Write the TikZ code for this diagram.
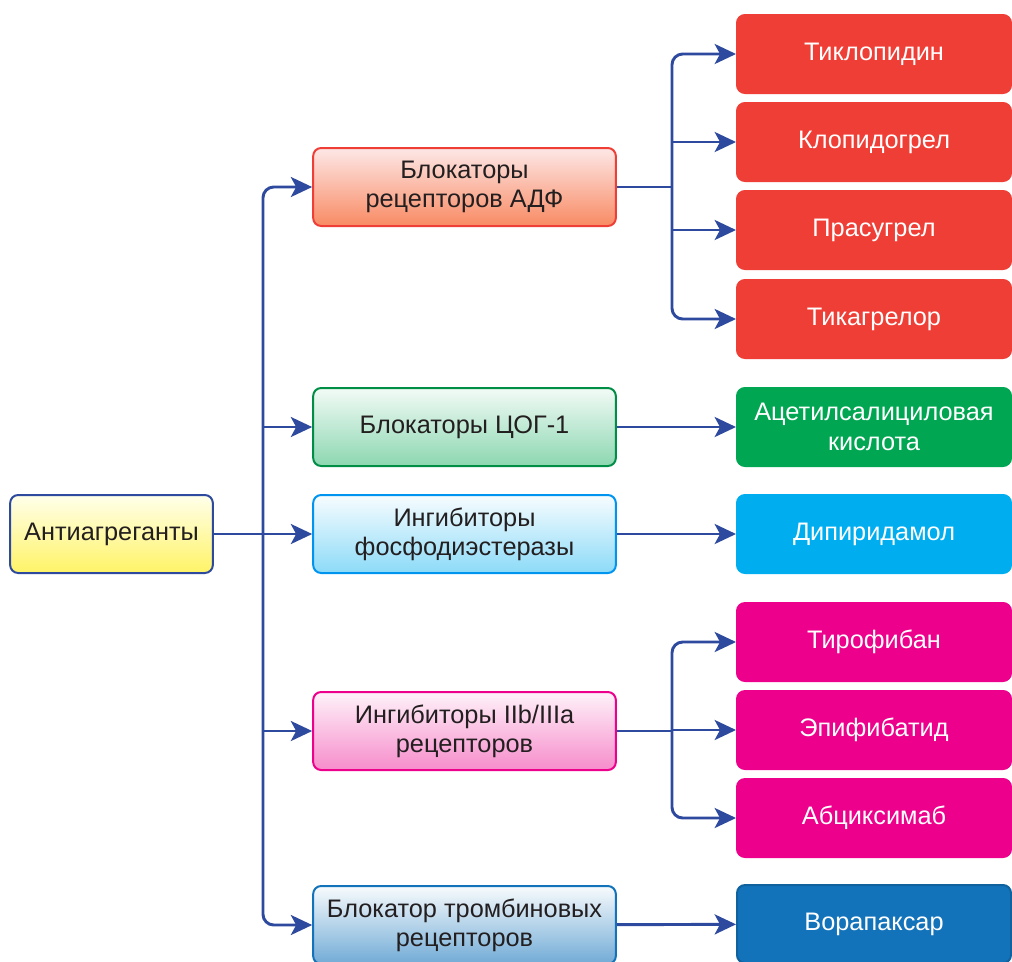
\documentclass[tikz,border=0pt]{standalone}
\usepackage{fontspec}
\setmainfont{Liberation Sans}
\usetikzlibrary{arrows.meta}
\definecolor{ArrowClr}{RGB}{46,74,158}
\definecolor{TextClr}{RGB}{35,31,32}
\definecolor{RedClr}{RGB}{239,62,54}
\definecolor{GreenClr}{RGB}{0,166,81}
\definecolor{CyanClr}{RGB}{0,174,239}
\definecolor{PinkClr}{RGB}{236,0,140}
\definecolor{BlueClr}{RGB}{18,115,186}

\begin{document}
\begin{tikzpicture}[x=0.75pt,y=-0.75pt,
  box/.style={rounded corners=6pt,line width=1.5pt,minimum height=58.5pt,
    align=center,font=\fontsize{19}{22}\selectfont,text=TextClr},
  mid/.style={box,minimum width=227pt},
  drug/.style={box,minimum width=205.5pt,text=white},
  arr/.style={line width=2.2pt,color=ArrowClr,-{Stealth[length=16pt,width=15pt,inset=4pt]}},
  arrs/.style={arr,{Stealth[length=16pt,width=15pt,inset=4pt]}-{Stealth[length=16pt,width=15pt,inset=4pt]},rounded corners=8pt},
  line/.style={line width=2.2pt,color=ArrowClr}]
\useasboundingbox (0,0) rectangle (1012,961);

\node[box,minimum width=152pt,draw=ArrowClr,top color=yellow!8,bottom color=yellow!85!orange!60] (root) at (111.5,534) {Антиагреганты};

\node[mid,draw=RedClr,top color=RedClr!12,bottom color=RedClr!60!orange!70] (adp) at (464.5,187) {Блокаторы\\рецепторов АДФ};
\node[mid,draw=GreenClr!85!black,top color=GreenClr!5,bottom color=GreenClr!45] (cox) at (464.5,427) {Блокаторы ЦОГ-1};
\node[mid,draw=CyanClr!85!blue,top color=CyanClr!3,bottom color=CyanClr!45] (pde) at (464.5,534) {Ингибиторы\\фосфодиэстеразы};
\node[mid,draw=PinkClr,top color=PinkClr!5,bottom color=PinkClr!45] (gp) at (464.5,731) {Ингибиторы IIb/IIIa\\рецепторов};
\node[mid,draw=BlueClr,top color=BlueClr!3,bottom color=BlueClr!60] (thr) at (464.5,925) {Блокатор тромбиновых\\рецепторов};

\node[drug,draw=RedClr,fill=RedClr] (tic) at (874,54) {Тиклопидин};
\node[drug,draw=RedClr,fill=RedClr] (clo) at (874,142) {Клопидогрел};
\node[drug,draw=RedClr,fill=RedClr] (pra) at (874,230) {Прасугрел};
\node[drug,draw=RedClr,fill=RedClr] (tik) at (874,319) {Тикагрелор};
\node[drug,draw=GreenClr,fill=GreenClr] (asa) at (874,427) {Ацетилсалициловая\\кислота};
\node[drug,draw=CyanClr,fill=CyanClr] (dip) at (874,534) {Дипиридамол};
\node[drug,draw=PinkClr,fill=PinkClr] (tir) at (874,642) {Тирофибан};
\node[drug,draw=PinkClr,fill=PinkClr] (epi) at (874,730) {Эпифибатид};
\node[drug,draw=PinkClr,fill=PinkClr] (abc) at (874,818) {Абциксимаб};
\node[drug,draw=BlueClr!85!black,fill=BlueClr] (vor) at (874,924) {Ворапаксар};

\coordinate (trunk) at (263,534);
\coordinate (fork1) at (672,187);
\coordinate (fork2) at (672,731);

\draw[arrs] (adp.west) -| (trunk) |- (thr.west);
\draw[arr] (root) -- (pde);
\draw[arr] (cox.west -| trunk) -- (cox);
\draw[arr] (gp.west -| trunk) -- (gp);

\draw[line] (adp) -- (fork1);
\draw[arrs] (tic.west) -| (fork1) |- (tik.west);
\draw[arr] (clo.west -| fork1) -- (clo);
\draw[arr] (pra.west -| fork1) -- (pra);

\draw[line] (gp) -- (fork2);
\draw[arrs] (tir.west) -| (fork2) |- (abc.west);
\draw[arr] (epi.west -| fork2) -- (epi);

\draw[arr] (cox) -- (asa);
\draw[arr] (pde) -- (dip);
\draw[arr] (thr) -- (vor);
\end{tikzpicture}
\end{document}
